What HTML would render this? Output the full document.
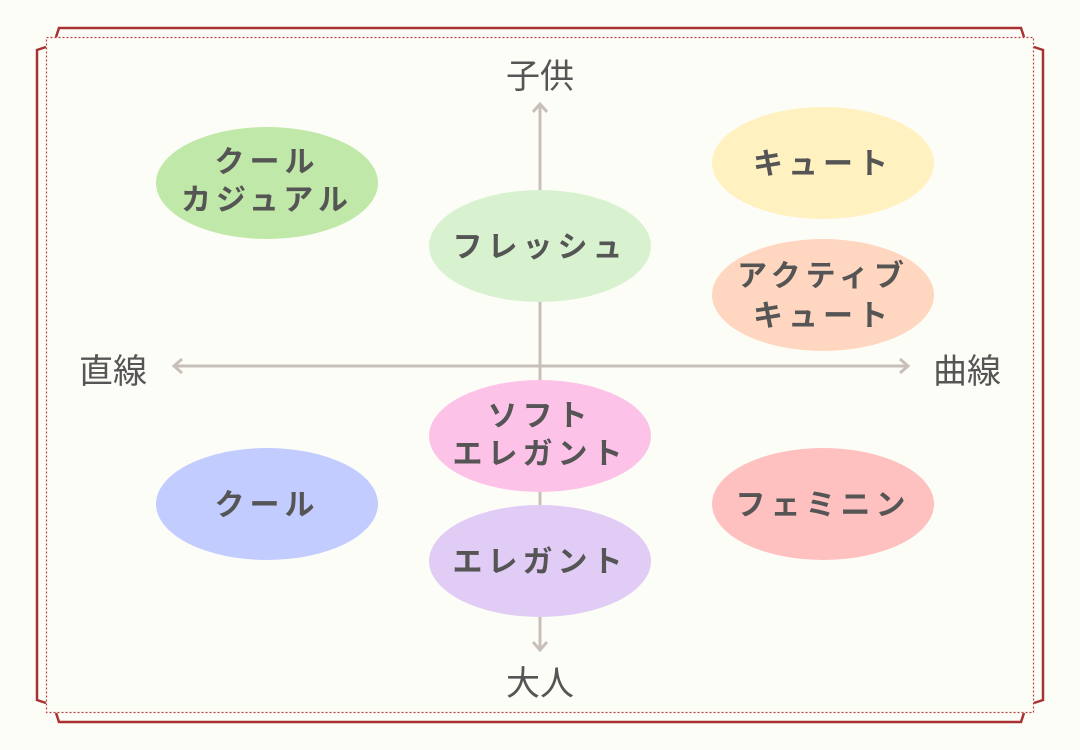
<!DOCTYPE html>
<html><head><meta charset="utf-8"><style>
html,body{margin:0;padding:0;background:#fff;}
svg{display:block}
text{font-family:"Liberation Sans","Noto Sans CJK JP",sans-serif;fill:#555;text-anchor:middle;}
.b{font-weight:bold;font-size:30px;letter-spacing:5px}
.a{font-size:34px}
</style></head><body>
<svg width="1080" height="750" viewBox="0 0 1080 750" xmlns="http://www.w3.org/2000/svg">
<rect x="0" y="0" width="1080" height="750" fill="#fdfdf7"/>
<g fill="none" stroke="#a83232" stroke-width="2.5">
<path d="M56,37 L59,28 L1021,28 L1024,37"/>
<path d="M56,713 L59,722 L1021,722 L1024,713"/>
<path d="M46,47 L37,50 L37,700 L46,703"/>
<path d="M1034,47 L1043,50 L1043,700 L1034,703"/>
</g>
<rect x="46.5" y="37.5" width="987" height="675" fill="none" stroke="#b84040" stroke-width="1.2" stroke-dasharray="2,2"/>
<g stroke="#c8bfbb" stroke-width="3" fill="none">
<line x1="174" y1="366" x2="908" y2="366"/>
<line x1="540" y1="104" x2="540" y2="650"/>
<path d="M182,359 L174,366 L182,373"/>
<path d="M900,359 L908,366 L900,373"/>
<path d="M533,112 L540,104 L547,112"/>
<path d="M533,642 L540,650 L547,642"/>
</g>
<text class="a" x="540" y="88">子供</text>
<text class="a" x="540" y="695">大人</text>
<text class="a" x="113" y="383">直線</text>
<text class="a" x="967" y="383">曲線</text>
<ellipse cx="267" cy="183" rx="111" ry="56" fill="#c0e8a8"/>
<ellipse cx="540" cy="246" rx="111" ry="56" fill="#d8f2d0"/>
<ellipse cx="823" cy="163" rx="111" ry="56" fill="#fff1c0"/>
<ellipse cx="823" cy="295" rx="111" ry="56" fill="#ffd6bf"/>
<ellipse cx="540" cy="436" rx="111" ry="56" fill="#fdc2e8"/>
<ellipse cx="267" cy="504" rx="111" ry="56" fill="#c2ccff"/>
<ellipse cx="823" cy="504" rx="111" ry="56" fill="#ffc0c0"/>
<ellipse cx="540" cy="561" rx="111" ry="56" fill="#e0ccf5"/>
<text class="b" x="267" y="172">クール</text>
<text class="b" x="267" y="210">カジュアル</text>
<text class="b" x="540" y="257">フレッシュ</text>
<text class="b" x="823" y="174">キュート</text>
<text class="b" x="823" y="286">アクティブ</text>
<text class="b" x="823" y="326">キュート</text>
<text class="b" x="540" y="426">ソフト</text>
<text class="b" x="540" y="464">エレガント</text>
<text class="b" x="267" y="515">クール</text>
<text class="b" x="823" y="515">フェミニン</text>
<text class="b" x="540" y="572">エレガント</text>
</svg>
</body></html>
